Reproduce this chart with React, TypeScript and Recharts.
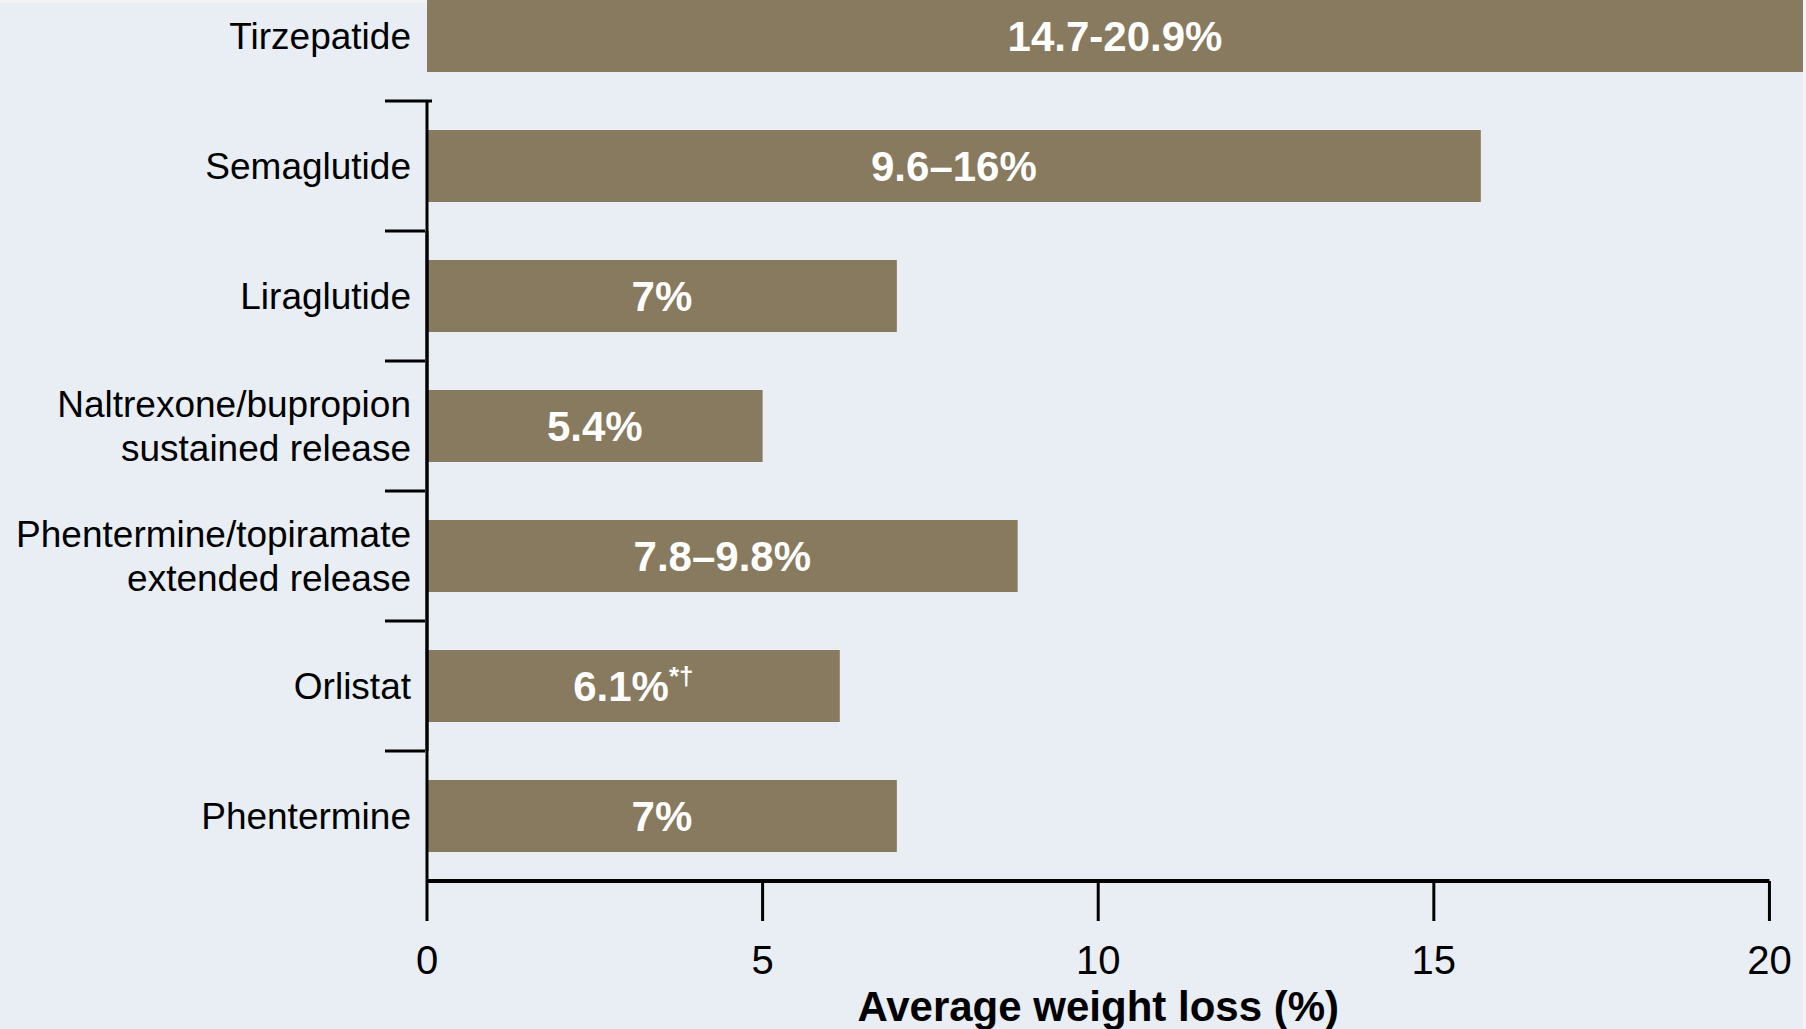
import { BarChart, Bar, XAxis, YAxis, ReferenceLine, LabelList } from 'recharts';

const drugs = [
  'Tirzepatide',
  'Semaglutide',
  'Liraglutide',
  'Naltrexone/bupropion\nsustained release',
  'Phentermine/topiramate\nextended release',
  'Orlistat',
  'Phentermine',
];
// bar lengths (%)
const loss = [20.5, 15.7, 7.0, 5.0, 8.8, 6.15, 7.0];
const barLabels = ['14.7-20.9%', '9.6–16%', '7%', '5.4%', '7.8–9.8%', '6.1%', '7%'];
const notes = ['', '', '', '', '', '*†', ''];
const xTicks = [0, 5, 10, 15, 20];
const axisTitle = 'Average weight loss (%)';

const rows = drugs.map((drug, i) => ({ drug, loss: loss[i], label: barLabels[i], note: notes[i] }));

const FONT = '"Liberation Sans", Arial, Helvetica, sans-serif';
const BAR = '#877a5e';
const TICK_GAP = 16;

function DrugTick(props: any) {
  const { x, y, payload, index } = props;
  const lines = String(payload.value).split('\n');
  const lh = 44;
  const half = payload.offset || 65;
  const axisX = x + TICK_GAP;
  const top = y - half;
  return (
    <g>
      {index > 0 ? (
        <line x1={axisX - 42} x2={index === 1 ? axisX + 5 : axisX - 2} y1={top} y2={top} stroke="#000" strokeWidth={3} />
      ) : null}
      <text x={x} y={y} textAnchor="end" fill="#000" fontSize={37} fontFamily={FONT}>
        {lines.map((line, i) => (
          <tspan key={i} x={x} y={y + (i - (lines.length - 1) / 2) * lh + 13}>
            {line}
          </tspan>
        ))}
      </text>
    </g>
  );
}

function BarLabel(props: any) {
  const vb = props.viewBox || props;
  const row = rows[props.index] || rows.find((r) => r.label === props.value);
  const note = row ? row.note : '';
  return (
    <text
      x={vb.x + vb.width / 2}
      y={vb.y + vb.height / 2 + 15}
      textAnchor="middle"
      fill="#fff"
      fontSize={42}
      fontWeight={700}
      fontFamily={FONT}
    >
      {props.value}
      {note ? (
        <tspan fontSize={26} dy={-16}>
          {note}
        </tspan>
      ) : null}
    </text>
  );
}

export default function App() {
  const first = drugs[1];
  const last = drugs[drugs.length - 1];
  const xEnd = xTicks[xTicks.length - 1];
  return (
    <div
      style={{
        position: 'fixed',
        left: 0,
        top: 0,
        width: 1806,
        height: 1029,
        background: '#f2f3f4',
        overflow: 'hidden',
        fontFamily: FONT,
      }}
    >
      <div style={{ position: 'absolute', left: 0, top: 3, width: 1803, height: 1026, background: '#e8eef3' }} />
      <div style={{ position: 'absolute', left: 0, top: -29 }}>
        <BarChart
          width={1806}
          height={1060}
          data={rows}
          layout="vertical"
          margin={{ top: 0, right: 3, bottom: 0, left: 0 }}
        >
          <YAxis
            type="category"
            dataKey="drug"
            width={427}
            axisLine={false}
            tickLine={false}
            tickSize={0}
            tickMargin={TICK_GAP}
            interval={0}
            tick={<DrugTick />}
          />
          <XAxis
            type="number"
            domain={[0, 'dataMax']}
            ticks={xTicks}
            interval={0}
            axisLine={false}
            tickSize={40}
            tickMargin={25}
            tickLine={{ stroke: '#000', strokeWidth: 3 }}
            tick={{ fill: '#000', fontSize: 40 }}
            height={150}
          />
          <Bar dataKey="loss" fill={BAR} barSize={72} isAnimationActive={false}>
            <LabelList dataKey="label" content={<BarLabel />} />
          </Bar>
          {/* y axis line: from top of 2nd band to bottom of last band */}
          <ReferenceLine
            position="start"
            segment={[{ x: 0, y: first }, { x: 0, y: last }]}
            stroke="#000"
            strokeWidth={3}
            ifOverflow="visible"
          />
          <ReferenceLine
            position="end"
            segment={[{ x: 0, y: first }, { x: 0, y: last }]}
            stroke="#000"
            strokeWidth={3}
            ifOverflow="visible"
          />
          <ReferenceLine
            position="end"
            segment={[{ x: 0, y: last }, { x: xEnd, y: last }]}
            stroke="#000"
            strokeWidth={4}
            ifOverflow="visible"
            label={{
              value: axisTitle,
              position: 'bottom',
              offset: 110,
              fill: '#000',
              fontSize: 42,
              fontWeight: 700,
            }}
          />
        </BarChart>
      </div>
    </div>
  );
}
